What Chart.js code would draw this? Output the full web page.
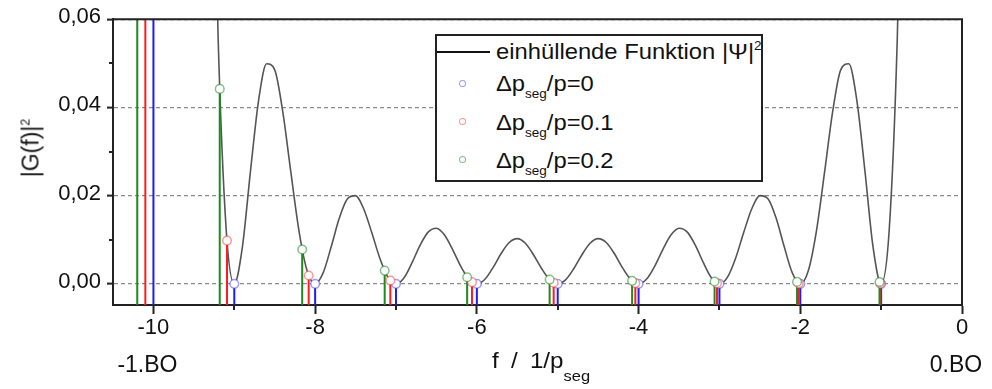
<!DOCTYPE html>
<html>
<head>
<meta charset="utf-8">
<script src="https://cdn.jsdelivr.net/npm/chart.js@4/dist/chart.umd.min.js"></script>
<style>
  html, body { margin: 0; padding: 0; background: #fff; }
  #wrap { position: relative; width: 992px; height: 389px; overflow: hidden;
          font-family: 'Liberation Sans', Arial, sans-serif; color: #111; }
  #c { position: absolute; left: 0; top: 0; }
  .txt { position: absolute; white-space: nowrap; font-size: 22px; line-height: 1; }
  .sub { font-size: 12.5px; position: relative; top: 7px; }
  .sup { font-size: 12.5px; position: relative; top: -9px; }
  #ytitle { left: 31px; top: 148px; font-size: 23px; transform: translate(-50%, -50%) rotate(-90deg); }
  #xtitle { left: 492px; top: 350px; word-spacing: 5px; transform-origin: left center; transform: scaleX(1.1); }
  #xtitle .sub { font-size: 15px; top: 13px; }
  #legend { position: absolute; left: 435px; top: 34px; width: 324px; height: 144px;
            border: 2px solid #222; background: #fff; }
  #legend .line { position: absolute; left: 0; top: 15px; width: 53px; height: 2px; background: #111; }
  #legend .mk { position: absolute; left: 22px; width: 5px; height: 5px; border-radius: 50%;
                border: 1.5px solid; background: #fff; }
  #legend .lt { position: absolute; left: 59px; white-space: nowrap; font-size: 22px; line-height: 1;
                transform-origin: left center; transform: scaleX(1.08); }
</style>
</head>
<body>
<div id="wrap">
  <canvas id="c" width="992" height="389"></canvas>
  <div id="ytitle" class="txt">|G(f)|<span class="sup">2</span></div>
  <div id="xtitle" class="txt">f / 1/p<span class="sub">seg</span></div>
  <div id="legend"></div>
</div>
<script>
// Envelope |Psi|^2 sampled along f (units of 1/p_seg)
const envelopeF = [
  -10.0, -9.9, -9.8, -9.7, -9.6, -9.5, -9.4, -9.3, -9.2, -9.1,
  -9.0, -8.9, -8.8, -8.7, -8.6, -8.5, -8.4, -8.3, -8.2, -8.1,
  -8.0, -7.9, -7.8, -7.7, -7.6, -7.5, -7.4, -7.3, -7.2, -7.1,
  -7.0, -6.9, -6.8, -6.7, -6.6, -6.5, -6.4, -6.3, -6.2, -6.1,
  -6.0, -5.9, -5.8, -5.7, -5.6, -5.5, -5.4, -5.3, -5.2, -5.1,
  -5.0, -4.9, -4.8, -4.7, -4.6, -4.5, -4.4, -4.3, -4.2, -4.1,
  -4.0, -3.9, -3.8, -3.7, -3.6, -3.5, -3.4, -3.3, -3.2, -3.1,
  -3.0, -2.9, -2.8, -2.7, -2.6, -2.5, -2.4, -2.3, -2.2, -2.1,
  -2.0, -1.9, -1.8, -1.7, -1.6, -1.5, -1.4, -1.3, -1.2, -1.1,
  -1.0, -0.9, -0.8, -0.7, -0.6, -0.5, -0.4, -0.3, -0.2, -0.1,
  0.0
];
const envelopeG = [
  1, 0.9679, 0.8763, 0.7390, 0.5758, 0.4086, 0.2576, 0.1375, 0.05586, 0.01227,
  0, 0.00832, 0.02550, 0.04150, 0.04989, 0.04852, 0.03897, 0.02526, 0.01203, 0.00302,
  0, 0.00254, 0.00850, 0.01497, 0.01930, 0.02000, 0.01702, 0.01163, 0.00582, 0.00153,
  0, 0.00140, 0.00485, 0.00883, 0.01178, 0.01260, 0.01105, 0.00777, 0.00400, 0.00108,
  0, 0.00104, 0.00368, 0.00687, 0.00937, 0.01025, 0.00919, 0.00660, 0.00347, 0.00096,
  0, 0.00096, 0.00347, 0.00660, 0.00919, 0.01025, 0.00937, 0.00687, 0.00368, 0.00104,
  0, 0.00108, 0.00400, 0.00777, 0.01105, 0.01260, 0.01178, 0.00883, 0.00485, 0.00140,
  0, 0.00153, 0.00582, 0.01163, 0.01702, 0.02000, 0.01930, 0.01497, 0.00850, 0.00254,
  0, 0.00302, 0.01203, 0.02526, 0.03897, 0.04852, 0.04989, 0.04150, 0.02550, 0.00832,
  0, 0.01227, 0.05586, 0.1375, 0.2576, 0.4086, 0.5758, 0.7390, 0.8763, 0.9679,
  1
];

// Diffraction peaks for the three segment-period deviations
const peakF0 = [-10, -9, -8, -7, -6, -5, -4, -3, -2, -1];
const peakG0 = [1, 0, 0, 0, 0, 0, 0, 0, 0, 0];
const peakF1 = [-10.1, -9.09, -8.08, -7.07, -6.06, -5.05, -4.04, -3.03, -2.02, -1.01];
const peakG1 = [0.968, 0.0098, 0.0019, 0.00075, 0.00039, 0.00025, 0.00017, 0.00013, 0.00011, 0.0001];
const peakF2 = [-10.2, -9.18, -8.16, -7.14, -6.12, -5.1, -4.08, -3.06, -2.04, -1.02];
const peakG2 = [0.876, 0.0442, 0.0078, 0.0030, 0.0015, 0.00096, 0.00067, 0.00052, 0.00044, 0.0004];
const ratioLabels = ['0', '0.1', '0.2'];

// Axis ticks
const xMajorTicks = [-10, -8, -6, -4, -2, 0];
const xMinorTicks = [-9, -7, -5, -3, -1];
const yMajorTicks = [0, 0.02, 0.04, 0.06];
const yMinorTicks = [0.01, 0.03, 0.05];
const orderTicks = [-10, 0];
const orderLabels = ['-1.BO', '0.BO'];

const X_MIN = -10.5, X_MAX = 0, Y_MIN = -0.0048, Y_MAX = 0.06;
const FONT = "'Liberation Sans', Arial, sans-serif";
const stemColors = ['#1c1cff', '#ff1c1c', '#1e8a1e'];
const markColors = ['rgba(60,60,255,0.5)', 'rgba(255,50,50,0.5)', 'rgba(30,140,30,0.55)'];
const envelopeLabel = 'einhüllende Funktion |Ψ|²';

const series = [[peakF0, peakG0], [peakF1, peakG1], [peakF2, peakG2]];

// vertical drop lines from the bottom axis up to each peak value
function stemData(fs, gs) {
  const pts = [];
  fs.forEach((f, i) => { pts.push({ x: f, y: Y_MIN }, { x: f, y: gs[i] }, { x: f, y: null }); });
  return pts;
}

const datasets = [{
  label: envelopeLabel,
  data: envelopeF.map((f, i) => ({ x: f, y: envelopeG[i] })),
  borderColor: '#555', borderWidth: 1.6, pointRadius: 0,
  cubicInterpolationMode: 'monotone', order: 10
}];
series.forEach(([fs, gs], k) => datasets.push({
  label: 'stem ' + ratioLabels[k],
  data: stemData(fs, gs), borderColor: stemColors[k], borderWidth: 2,
  pointRadius: 0, spanGaps: false, tension: 0, order: 7 - k
}));
series.forEach(([fs, gs], k) => datasets.push({
  label: 'Δp_seg/p=' + ratioLabels[k],
  data: fs.map((f, i) => ({ x: f, y: gs[i] })), showLine: false,
  pointRadius: 4.3, pointBorderWidth: 1.5, pointBorderColor: markColors[k],
  pointBackgroundColor: '#fff', order: 3 - k
}));

// short minor tick marks and the closing frame of the plot
const frameAndMinor = {
  id: 'frameAndMinor',
  afterDraw(chart) {
    const { ctx, chartArea: a, scales: { x, y } } = chart;
    ctx.save();
    ctx.strokeStyle = '#222';
    ctx.lineWidth = 2;
    ctx.beginPath();
    xMinorTicks.forEach(v => { const px = Math.round(x.getPixelForValue(v)); ctx.moveTo(px, a.bottom); ctx.lineTo(px, a.bottom + 5); });
    yMinorTicks.forEach(v => { const py = Math.round(y.getPixelForValue(v)); ctx.moveTo(a.left, py); ctx.lineTo(a.left - 4, py); });
    ctx.moveTo(a.left, a.top); ctx.lineTo(a.right, a.top); ctx.lineTo(a.right, a.bottom);
    ctx.stroke();
    ctx.restore();
  }
};

new Chart(document.getElementById('c'), {
  type: 'line',
  data: { datasets },
  options: {
    responsive: false, animation: false, devicePixelRatio: 1,
    layout: { padding: { left: 0, right: 30, top: 19, bottom: 0 } },
    plugins: { legend: { display: false }, tooltip: { enabled: false } },
    scales: {
      x: {
        type: 'linear', min: X_MIN, max: X_MAX, position: 'bottom',
        afterBuildTicks: s => { s.ticks = xMajorTicks.map(v => ({ value: v })); },
        afterFit: s => { s.height = 45; },
        ticks: { callback: v => String(v), font: { family: FONT, size: 22 }, color: '#111',
                 padding: 1, maxRotation: 0, autoSkip: false },
        grid: { drawOnChartArea: false, drawTicks: true, tickLength: 9, tickColor: '#222', tickWidth: 2 },
        border: { display: true, color: '#222', width: 2 }
      },
      xb: {
        type: 'linear', min: X_MIN, max: X_MAX, position: 'bottom',
        afterBuildTicks: s => { s.ticks = orderTicks.map(v => ({ value: v })); },
        afterFit: s => { s.height = 39; },
        ticks: { callback: (v, i) => orderLabels[i], font: { family: FONT, size: 23 }, color: '#111',
                 padding: 2, labelOffset: -6, maxRotation: 0, autoSkip: false },
        grid: { display: false, drawTicks: false },
        border: { display: false }
      },
      y: {
        type: 'linear', min: Y_MIN, max: Y_MAX,
        afterBuildTicks: s => { s.ticks = yMajorTicks.map(v => ({ value: v })); },
        afterFit: s => { s.width = 113; },
        ticks: { callback: v => v.toFixed(2).replace('.', ','), font: { family: FONT, size: 22 },
                 color: '#111', padding: 6, labelOffset: -2 },
        grid: { color: '#8a8a8a', lineWidth: 1.2, drawTicks: true, tickLength: 6,
                tickColor: '#222', tickWidth: 2, tickBorderDash: [] },
        border: { display: true, color: '#222', width: 2, dash: [4, 3] }
      }
    }
  },
  plugins: [frameAndMinor]
});

// legend box
const legend = document.getElementById('legend');
const rowTops = [37.4, 76.4, 114.4];
const markTops = [44, 82, 120];
let html = '<div class="line"></div>' +
  '<div class="lt" style="top:5.4px">einhüllende Funktion |Ψ|<span class="sup">2</span></div>';
ratioLabels.forEach((r, k) => {
  html += `<div class="mk" style="top:${markTops[k]}px;border-color:${markColors[k]}"></div>` +
          `<div class="lt" style="top:${rowTops[k]}px">Δp<span class="sub">seg</span>/p=${r}</div>`;
});
legend.innerHTML = html;
</script>
</body>
</html>
